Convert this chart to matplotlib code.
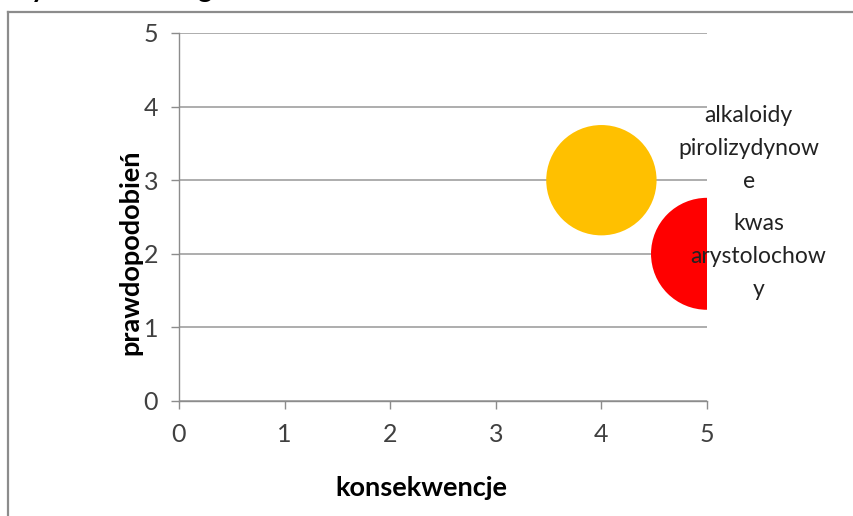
import matplotlib
matplotlib.use("Agg")
import matplotlib.pyplot as plt
from matplotlib.lines import Line2D

# risk matrix: consequences vs likelihood, bubble = relative weight
substancje = ["alkaloidy\npirolizydynow\ne", "kwas\narystolochow\ny"]
konsekwencje = [4, 5]
prawdopodobienstwo = [3, 2]
rozmiar = [1.0, 1.03]
kolory = ["#FFC000", "#FF0000"]
ticks = [0, 1, 2, 3, 4, 5]

plt.rcParams["font.family"] = ["Lato", "DejaVu Sans"]

W, H = 854, 516
fig = plt.figure(figsize=(W / 100, H / 100), dpi=100)

# outer chart frame (only top and left edges are visible)
fig.add_artist(Line2D([8 / W, 1.0], [1 - 11.5 / H, 1 - 11.5 / H], color="#8c8c8c",
                      lw=1.6, transform=fig.transFigure))
fig.add_artist(Line2D([8 / W, 8 / W], [1 - 11.5 / H, 0.0], color="#8c8c8c",
                      lw=1.6, transform=fig.transFigure))

# descenders of the title line sitting above the frame
fig.text(38 / W, 1 + 3 / H, "y", fontsize=20, fontweight="bold", ha="center", va="baseline")
fig.text(205 / W, 1 + 3 / H, "g", fontsize=20, fontweight="bold", ha="center", va="baseline")

ax = fig.add_axes([179 / W, 1 - 401 / H, (707 - 179) / W, (401 - 33) / H])
ax.set_xlim(0, 5)
ax.set_ylim(0, 5)

smax = 6500
sizes = [r / max(rozmiar) * smax for r in rozmiar]
ax.scatter(konsekwencje, prawdopodobienstwo, s=sizes, c=kolory, edgecolors="none",
           zorder=3)

offsets = [(106, 23), (37, -2)]
for name, x, y, off in zip(substancje, konsekwencje, prawdopodobienstwo, offsets):
    ax.annotate(name, (x, y), xytext=off, textcoords="offset points",
                ha="center", va="center", multialignment="center",
                fontsize=16.5, color="#222222", linespacing=1.7,
                annotation_clip=False, zorder=4)

ax.set_xticks(ticks)
ax.set_yticks(ticks)
ax.grid(axis="y", color="#a0a0a0", lw=1.2)
ax.set_axisbelow(True)
for side in ("top", "right"):
    ax.spines[side].set_visible(False)
for side in ("left", "bottom"):
    ax.spines[side].set_color("#8c8c8c")
    ax.spines[side].set_linewidth(1.0)
ax.tick_params(axis="both", direction="out", length=6, width=1.0, color="#8c8c8c",
               labelsize=18, labelcolor="#404040")
ax.tick_params(axis="y", pad=9)
ax.tick_params(axis="x", pad=10)

fig.text(421 / W, 1 - 488 / H, "konsekwencje", fontsize=19.5, fontweight="bold",
         ha="center", va="center")
fig.text(130 / W, 1 - 252 / H, "prawdopodobień", fontsize=19.5, fontweight="bold",
         ha="center", va="center", rotation=90)

fig.savefig("out.png", dpi=100)
